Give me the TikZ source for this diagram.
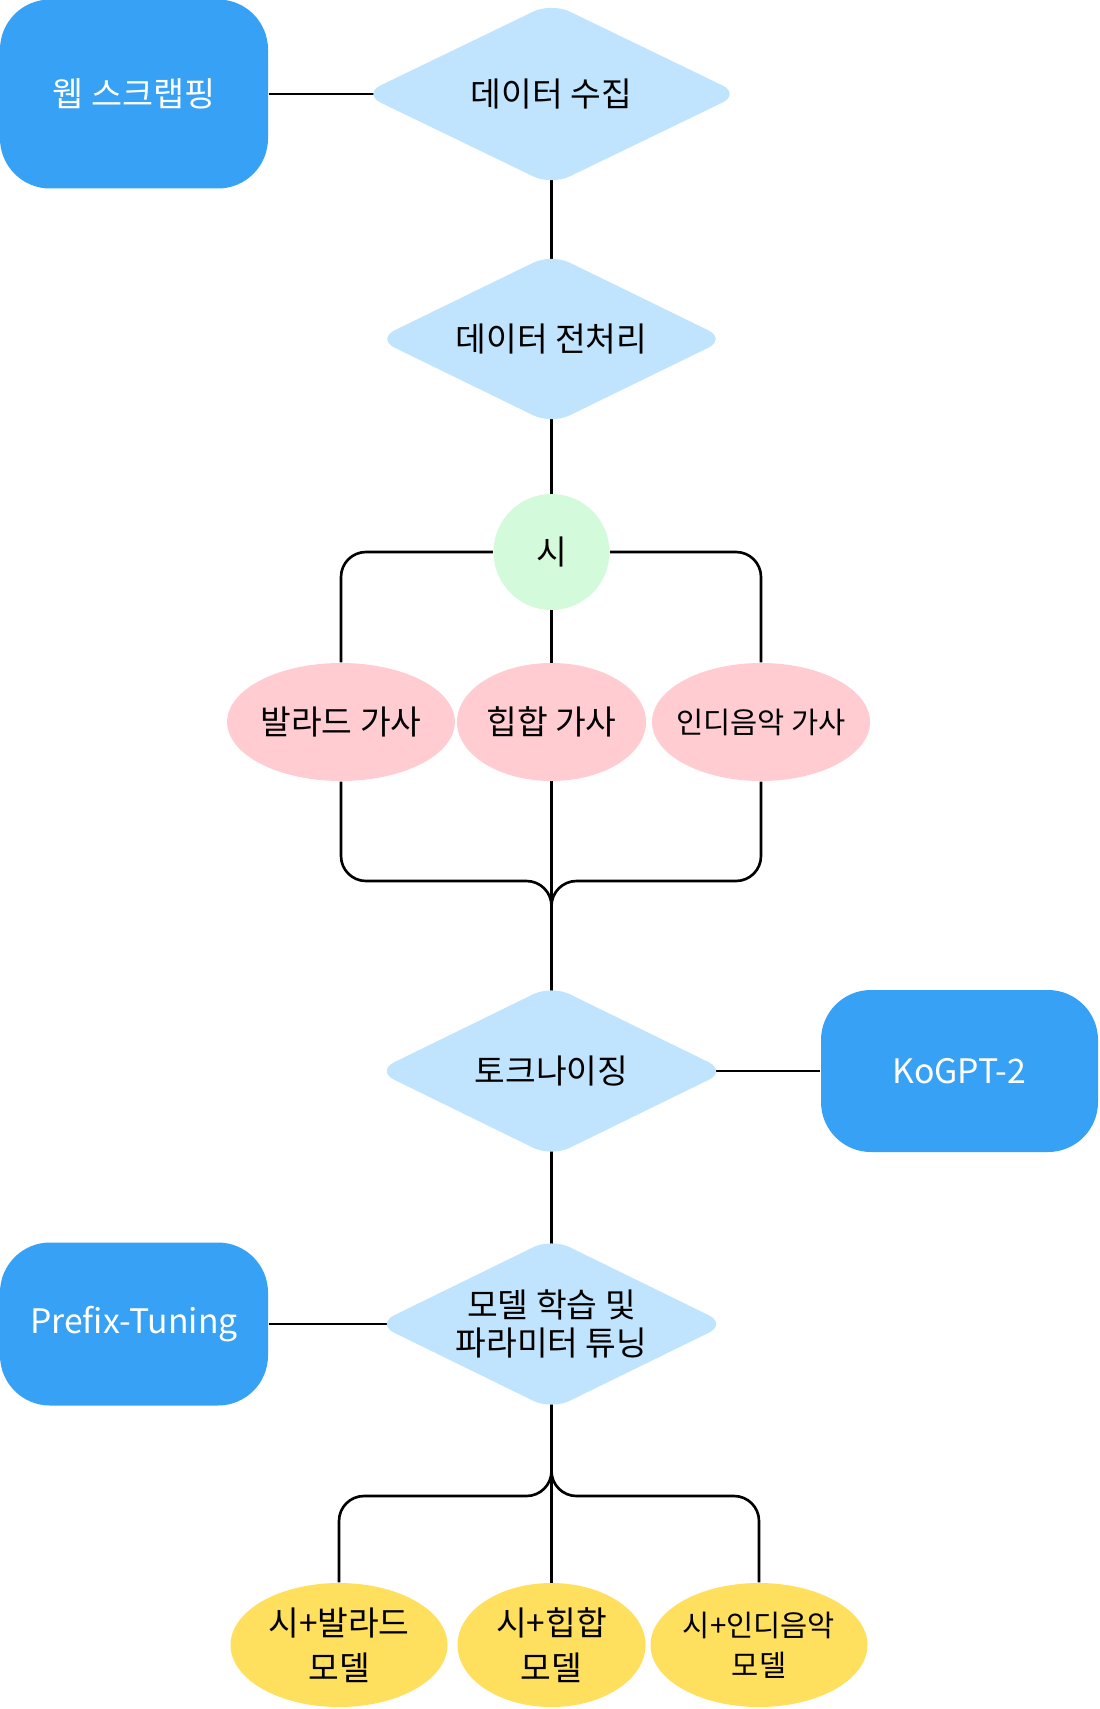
\documentclass[tikz,border=0pt]{standalone}
\usepackage{fontspec}
\setmainfont{Noto Sans CJK KR}
\usetikzlibrary{shapes.geometric,backgrounds}

\definecolor{srcblue}{RGB}{55,161,245}
\definecolor{stepblue}{RGB}{192,228,253}
\definecolor{poemgreen}{RGB}{212,250,220}
\definecolor{lyricpink}{RGB}{255,204,210}
\definecolor{modelyellow}{RGB}{255,223,94}

\begin{document}
\begin{tikzpicture}[
    font=\fontsize{9.5pt}{10.8pt}\selectfont,
    link/.style ={line width=0.75pt, rounded corners=0.25cm},
    src/.style  ={fill=srcblue, text=white, rounded corners=0.5cm, align=center,
                  font=\fontsize{9.6pt}{12pt}\selectfont},
    dia/.style  ={diamond, aspect=2.07, fill=stepblue, rounded corners=0.2cm,
                  inner sep=0pt, align=center},
    poem/.style ={circle, fill=poemgreen, minimum size=1.16cm, inner sep=0pt},
    lyr/.style  ={ellipse, fill=lyricpink, minimum height=1.18cm, inner sep=0pt},
    mdl/.style  ={ellipse, fill=modelyellow, minimum height=1.24cm, inner sep=0pt,
                  align=center, font=\fontsize{9.5pt}{12.7pt}\selectfont},
    small/.style={font=\fontsize{8.4pt}{11.5pt}\selectfont},
  ]
  \useasboundingbox (0,0) rectangle (10.99,-17.09);

  % --- collection and preprocessing ---
  \node[src, minimum width=2.68cm, minimum height=1.89cm] (web) at (1.34,-0.94) {웹 스크랩핑};
  \node[dia, minimum width=3.78cm, minimum height=1.83cm] (collect) at (5.515,-0.94) {데이터 수집};
  \node[dia, minimum width=3.50cm, minimum height=1.71cm] (prep) at (5.515,-3.39) {데이터 전처리};

  % --- poem and lyrics ---
  \node[poem] (poem) at (5.515,-5.52) {시};
  \node[lyr, minimum width=2.18cm] (ballad) at (3.41,-7.22) {발라드 가사};
  \node[lyr, minimum width=1.89cm] (hiphop) at (5.515,-7.22) {힙합 가사};
  \node[lyr, small, inner xsep=-2mm, minimum width=2.18cm] (indie) at (7.61,-7.22) {인디음악 가사};
  \coordinate (join) at (5.515,-8.81);

  % --- tokenizing and training ---
  \node[dia, minimum width=3.51cm, minimum height=1.72cm] (token) at (5.515,-10.71) {토크나이징};
  \node[src, minimum width=2.77cm, minimum height=1.62cm] (kogpt) at (9.595,-10.71) {KoGPT-2};
  \node[dia, minimum width=3.51cm, minimum height=1.72cm] (train) at (5.515,-13.24) {모델 학습 및\\파라미터 튜닝};
  \node[src, minimum width=2.68cm, minimum height=1.63cm] (prefix) at (1.34,-13.24) {Prefix-Tuning};
  \coordinate (fork) at (5.515,-14.96);

  % --- models ---
  \node[mdl, minimum width=2.17cm] (m1) at (3.39,-16.45) {시+발라드\\모델};
  \node[mdl, minimum width=1.88cm] (m2) at (5.515,-16.45) {시+힙합\\모델};
  \node[mdl, small, minimum width=2.17cm] (m3) at (7.59,-16.45) {시+인디음악\\모델};

  % --- connectors (run under the fills) ---
  \begin{scope}[on background layer]
    \draw[link] (web.east) -- (collect.center);
    \draw[link] (collect.center) -- (prep.center);
    \draw[link] (prep.center) -- (poem.center);
    \draw[link] (poem.west) -| (ballad.north);
    \draw[link] (poem.east) -| (indie.north);
    \draw[link] (poem.center) -- (hiphop.center);
    \draw[link] (ballad.south) |- (join) -- (token.center);
    \draw[link] (indie.south) |- (join) -- (token.center);
    \draw[link] (hiphop.center) -- (token.center);
    \draw[link] (token.center) -- (kogpt.west);
    \draw[link] (token.center) -- (train.center);
    \draw[link] (prefix.east) -- (train.center);
    \draw[link] (train.center) -- (fork) -| (m1.north);
    \draw[link] (train.center) -- (fork) -| (m3.north);
    \draw[link] (train.center) -- (m2.center);
  \end{scope}
\end{tikzpicture}
\end{document}
